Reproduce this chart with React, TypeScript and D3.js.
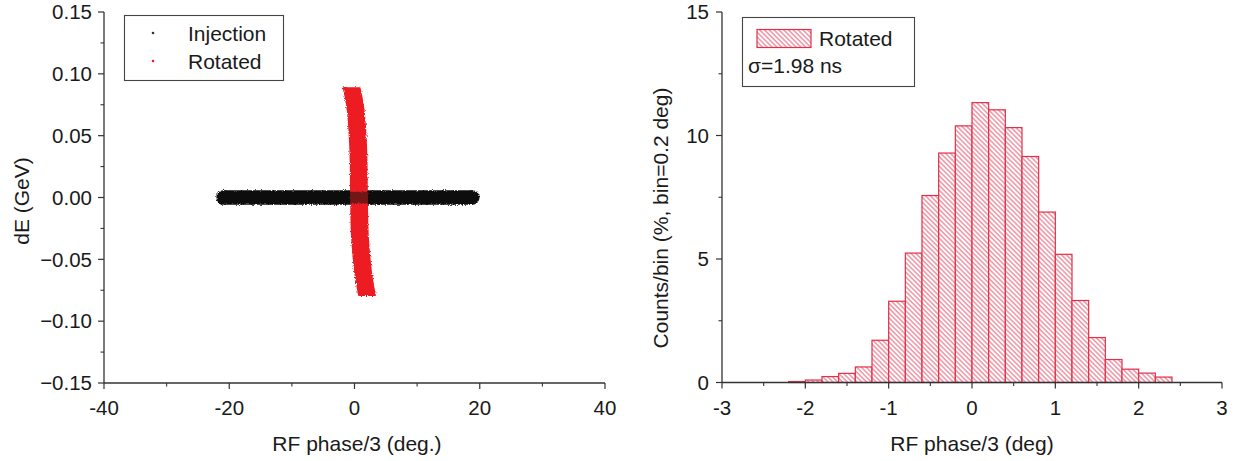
import React from "react";
import * as d3 from "d3";

// ---------- Data ----------
// Left panel: longitudinal phase space bands (centre-line samples)
const injectionPhase = [-20.9, -15, -10, -5, 0, 5, 10, 15, 18.8];
const injectionDE = [0.0, 0.0, 0.0, 0.0, 0.0, 0.0, 0.0, 0.0, 0.0];
const injectionHalfDE = 0.0047;

const rotatedDE = [0.0885, 0.08, 0.07, 0.05, 0.03, 0.01, -0.01, -0.03, -0.05, -0.065, -0.079];
const rotatedPhase = [-0.45, -0.1, 0.2, 0.5, 0.65, 0.7, 0.75, 0.85, 1.15, 1.5, 2.0];
const rotatedHalfPhase = 1.3;

const leftXTicks = [-40, -20, 0, 20, 40];
const leftXMinor = [-30, -10, 10, 30];
const leftYTicks = [0.15, 0.1, 0.05, 0.0, -0.05, -0.1, -0.15];
const leftYMinor = [0.125, 0.075, 0.025, -0.025, -0.075, -0.125];

// Right panel: histogram (bin = 0.2 deg)
const binStarts = [-2.2, -2.0, -1.8, -1.6, -1.4, -1.2, -1.0, -0.8, -0.6, -0.4, -0.2, 0.0, 0.2, 0.4, 0.6, 0.8, 1.0, 1.2, 1.4, 1.6, 1.8, 2.0, 2.2];
const binCounts = [0.04, 0.1, 0.24, 0.37, 0.63, 1.71, 3.29, 5.24, 7.57, 9.29, 10.39, 11.33, 11.04, 10.32, 9.15, 6.9, 5.19, 3.32, 1.82, 0.93, 0.54, 0.38, 0.22];
const binWidth = 0.2;

const rightXTicks = [-3, -2, -1, 0, 1, 2, 3];
const rightXMinor = [-2.5, -1.5, -0.5, 0.5, 1.5, 2.5];
const rightYTicks = [0, 5, 10, 15];
const rightYMinor = [2.5, 7.5, 12.5];

// ---------- Styles ----------
const FONT = "'Liberation Sans', Arial, Helvetica, sans-serif";
const TEXT = "#1a1a1a";
const AXIS = "#333";
const RED = "#ec1c24";
const BAR_RED = "#e0304a";
const FS = 20.5;

export default function App() {
  // Left scales
  const lx = d3.scaleLinear().domain([-40, 40]).range([104, 605]);
  const ly = d3.scaleLinear().domain([-0.15, 0.15]).range([383, 12]);
  // Right scales
  const rx = d3.scaleLinear().domain([-3, 3]).range([722, 1222]);
  const ry = d3.scaleLinear().domain([0, 15]).range([382.5, 12]);

  const injData = injectionPhase.map((p, i) => ({ p, e: injectionDE[i] }));
  const injArea = d3
    .area<{ p: number; e: number }>()
    .x((d) => lx(d.p))
    .y0((d) => ly(d.e - injectionHalfDE))
    .y1((d) => ly(d.e + injectionHalfDE))
    .curve(d3.curveMonotoneX);

  const rotData = rotatedDE.map((e, i) => ({ e, p: rotatedPhase[i] }));
  const rotArea = d3
    .area<{ p: number; e: number }>()
    .y((d) => ly(d.e))
    .x0((d) => lx(d.p - rotatedHalfPhase))
    .x1((d) => lx(d.p + rotatedHalfPhase))
    .curve(d3.curveCatmullRom);

  const majorLen = 6;
  const minorLen = 3.5;

  return (
    <svg
      width={1246}
      height={461}
      style={{ position: "absolute", left: 0, top: 0, background: "#fff" }}
      fontFamily={FONT}
    >
      <defs>
        <pattern
          id="hatch"
          patternUnits="userSpaceOnUse"
          width={3.4}
          height={3.4}
          patternTransform="rotate(45)"
        >
          <rect width={3.4} height={3.4} fill="#fff" />
          <line x1={0} y1={0.8} x2={3.4} y2={0.8} stroke="#e4566e" strokeWidth={0.95} />
        </pattern>
        <filter id="rough" x="-10%" y="-10%" width="120%" height="120%">
          <feTurbulence type="fractalNoise" baseFrequency="0.9" numOctaves={2} seed={3} result="n" />
          <feDisplacementMap in="SourceGraphic" in2="n" scale={3.2} xChannelSelector="R" yChannelSelector="G" />
        </filter>
      </defs>

      {/* ================= LEFT PANEL ================= */}
      <g>
        {/* bands */}
        <g filter="url(#rough)">
          <path
            d={injArea(injData) || ""}
            fill="#111"
            stroke="#111"
            strokeWidth={3}
            strokeLinejoin="round"
          />
          <circle cx={lx(injectionPhase[0])} cy={ly(injectionDE[0])} r={ly(-injectionHalfDE) - ly(0) + 1.5} fill="#111" />
          <circle
            cx={lx(injectionPhase[injectionPhase.length - 1])}
            cy={ly(injectionDE[injectionDE.length - 1])}
            r={ly(-injectionHalfDE) - ly(0) + 1.5}
            fill="#111"
          />
          <path
            d={rotArea(rotData) || ""}
            fill={RED}
            stroke={RED}
            strokeWidth={1.5}
            strokeLinejoin="round"
          />
          {/* black points overlapping the red band near dE = 0 */}
          <path
            d={injArea(injData) || ""}
            fill="#111"
            opacity={0.55}
          />
        </g>

        {/* axes */}
        <line x1={lx(-40)} x2={lx(40)} y1={ly(-0.15)} y2={ly(-0.15)} stroke={AXIS} strokeWidth={1.3} />
        <line x1={lx(-40)} x2={lx(-40)} y1={ly(-0.15)} y2={ly(0.15)} stroke={AXIS} strokeWidth={1.3} />
        {leftXTicks.map((t) => (
          <g key={"lxt" + t}>
            <line x1={lx(t)} x2={lx(t)} y1={ly(-0.15)} y2={ly(-0.15) + majorLen} stroke={AXIS} strokeWidth={1.2} />
            <text x={lx(t)} y={415} textAnchor="middle" fontSize={FS} fill={TEXT}>
              {t}
            </text>
          </g>
        ))}
        {leftXMinor.map((t) => (
          <line key={"lxm" + t} x1={lx(t)} x2={lx(t)} y1={ly(-0.15)} y2={ly(-0.15) + minorLen} stroke={AXIS} strokeWidth={1.1} />
        ))}
        {leftYTicks.map((t) => (
          <g key={"lyt" + t}>
            <line x1={lx(-40) - majorLen} x2={lx(-40)} y1={ly(t)} y2={ly(t)} stroke={AXIS} strokeWidth={1.2} />
            <text x={92} y={ly(t) + 7.3} textAnchor="end" fontSize={FS} fill={TEXT}>
              {d3.format(".2f")(t)}
            </text>
          </g>
        ))}
        {leftYMinor.map((t) => (
          <line key={"lym" + t} x1={lx(-40) - minorLen} x2={lx(-40)} y1={ly(t)} y2={ly(t)} stroke={AXIS} strokeWidth={1.1} />
        ))}
        <text x={357} y={451} textAnchor="middle" fontSize={21} fill={TEXT}>
          RF phase/3 (deg.)
        </text>
        <text transform="translate(29,201) rotate(-90)" textAnchor="middle" fontSize={21} fill={TEXT}>
          dE (GeV)
        </text>

        {/* legend */}
        <rect x={124.5} y={15.5} width={159} height={65} fill="#fff" stroke="#444" strokeWidth={1.1} />
        <circle cx={153} cy={33} r={1.3} fill="#333" />
        <circle cx={153} cy={61} r={1.3} fill={RED} />
        <text x={188} y={41} fontSize={21} fill={TEXT}>
          Injection
        </text>
        <text x={188} y={69} fontSize={21} fill={TEXT}>
          Rotated
        </text>
      </g>

      {/* ================= RIGHT PANEL ================= */}
      <g>
        {binStarts.map((b, i) => (
          <rect
            key={"bar" + i}
            x={rx(b)}
            y={ry(binCounts[i])}
            width={rx(b + binWidth) - rx(b)}
            height={ry(0) - ry(binCounts[i])}
            fill="url(#hatch)"
            stroke={BAR_RED}
            strokeWidth={1.2}
          />
        ))}

        {/* axes */}
        <line x1={rx(-3)} x2={rx(3)} y1={ry(0)} y2={ry(0)} stroke={AXIS} strokeWidth={1.3} />
        <line x1={rx(-3)} x2={rx(-3)} y1={ry(0)} y2={ry(15)} stroke={AXIS} strokeWidth={1.3} />
        {rightXTicks.map((t) => (
          <g key={"rxt" + t}>
            <line x1={rx(t)} x2={rx(t)} y1={ry(0)} y2={ry(0) + majorLen} stroke={AXIS} strokeWidth={1.2} />
            <text x={rx(t)} y={415} textAnchor="middle" fontSize={FS} fill={TEXT}>
              {t}
            </text>
          </g>
        ))}
        {rightXMinor.map((t) => (
          <line key={"rxm" + t} x1={rx(t)} x2={rx(t)} y1={ry(0)} y2={ry(0) + minorLen} stroke={AXIS} strokeWidth={1.1} />
        ))}
        {rightYTicks.map((t) => (
          <g key={"ryt" + t}>
            <line x1={rx(-3) - majorLen} x2={rx(-3)} y1={ry(t)} y2={ry(t)} stroke={AXIS} strokeWidth={1.2} />
            <text x={709} y={ry(t) + 7.3} textAnchor="end" fontSize={FS} fill={TEXT}>
              {t}
            </text>
          </g>
        ))}
        {rightYMinor.map((t) => (
          <line key={"rym" + t} x1={rx(-3) - minorLen} x2={rx(-3)} y1={ry(t)} y2={ry(t)} stroke={AXIS} strokeWidth={1.1} />
        ))}
        <text x={972} y={451} textAnchor="middle" fontSize={21} fill={TEXT}>
          RF phase/3 (deg)
        </text>
        <text transform="translate(668,218) rotate(-90)" textAnchor="middle" fontSize={21} fill={TEXT}>
          Counts/bin (%, bin=0.2 deg)
        </text>

        {/* legend */}
        <rect x={742.5} y={17.5} width={172} height={69} fill="#fff" stroke="#444" strokeWidth={1.1} />
        <rect x={757} y={29.5} width={54} height={18} fill="url(#hatch)" stroke={BAR_RED} strokeWidth={1.2} />
        <text x={819} y={46} fontSize={21} fill={TEXT}>
          Rotated
        </text>
        <text x={748} y={73} fontSize={21} fill={TEXT}>
          σ=1.98 ns
        </text>
      </g>
    </svg>
  );
}
